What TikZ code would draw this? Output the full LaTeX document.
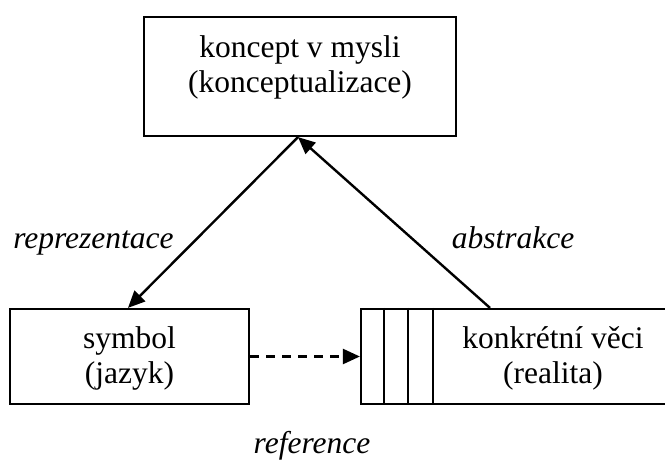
\documentclass[tikz,border=0pt]{standalone}
\usepackage{fontspec}
\setmainfont{Liberation Serif}
\usetikzlibrary{arrows.meta}
\begin{document}
\begin{tikzpicture}[x=1pt,y=-1pt,
  box/.style={draw, line width=2.2pt, inner sep=0pt},
  txt/.style={anchor=base, inner sep=0pt, font=\fontsize{31.5}{35}\selectfont},
  lbl/.style={txt, font=\fontsize{31.5}{35}\selectfont\itshape},
  conn/.style={line width=2.4pt, -{Triangle[length=17pt,width=15pt]}}]
\useasboundingbox (0,0) rectangle (665,460);

% concept in the mind
\node[box, minimum width=312pt, minimum height=119pt] (concept) at (300,76.5) {};
\node[txt] (conceptA) at (300,58) {koncept v mysli};
\node[txt] (conceptB) at (300,93) {(konceptualizace)};

% symbol
\node[box, minimum width=239pt, minimum height=95pt] (symbol) at (129.5,356.5) {};
\node[txt] (symbolA) at (129.5,348) {symbol};
\node[txt] (symbolB) at (129.5,383) {(jazyk)};

% concrete things, a stack of cards
\node[box, minimum width=311pt, minimum height=95pt] (things) at (516.5,356.5) {};
\foreach \dx in {24,48,73}
  \draw[line width=1.8pt] ([xshift=\dx pt]things.north west) -- ([xshift=\dx pt]things.south west);
\node[txt] (thingsA) at (553,348) {konkrétní věci};
\node[txt] (thingsB) at (553,383) {(realita)};

% relations
\draw[conn] ([xshift=-2pt]concept.south) -- ([xshift=-1.5pt]symbol.north);
\draw[conn] ([xshift=-26.5pt]things.north) -- ([xshift=-2pt]concept.south);
\draw[conn, dash pattern=on 9pt off 7pt] (symbol.east) -- (things.west);

\node[lbl] (repr) at (93.5,248) {reprezentace};
\node[lbl] (abstr) at (513,248) {abstrakce};
\node[lbl] (ref) at (312,453) {reference};
\end{tikzpicture}
\end{document}
